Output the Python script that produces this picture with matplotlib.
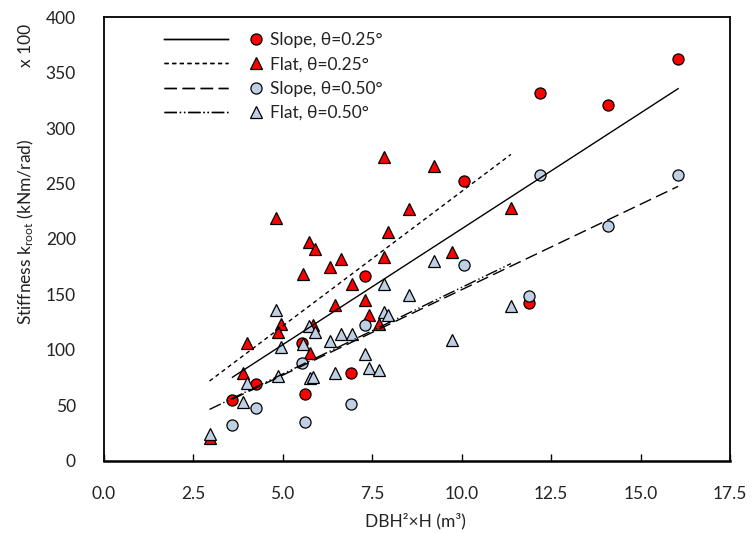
import matplotlib.pyplot as plt
import matplotlib as mpl
import numpy as np

mpl.rcParams['font.family'] = ['Lato', 'DejaVu Sans']
mpl.rcParams['mathtext.fontset'] = 'custom'
mpl.rcParams['mathtext.rm'] = 'Lato'
mpl.rcParams['mathtext.it'] = 'Lato:italic'

red = '#FF0000'
blue = '#BFD0E5'

# slope sites (same trees, two rotation angles)
x_slope = [16.05, 12.2, 14.08, 10.06, 11.89, 7.31, 5.54, 4.26, 3.60, 5.63, 6.91]
k_slope_025 = [362, 332, 321, 252, 142, 167, 106, 69, 55, 60, 79]
k_slope_050 = [258, 258, 212, 176.5, 148.6, 122.5, 88.4, 47.3, 32.2, 34.6, 51.1]

# flat sites
x_flat = [4.82, 5.74, 5.91, 6.33, 5.57, 4.97, 6.47, 5.77, 5.86, 4.86, 4.00, 3.90, 2.96,
          6.64, 6.95, 9.73, 7.30, 7.41, 7.70, 7.84, 7.94, 9.23, 11.38, 7.83, 8.52]
k_flat_025 = [218.7, 197.6, 190.7, 175, 168, 123.3, 140.5, 96.9, 122, 116.4, 105.9, 78.8, 20.2,
              182, 159.7, 188, 145, 131, 123, 273.7, 206, 266, 227.7, 184, 227]
k_flat_050 = [136, 121.8, 115.8, 108.3, 105, 102.3, 79.4, 74.3, 75.8, 76.4, 69.8, 53.2, 24.1,
              114, 114, 108.6, 96, 83.4, 82.1, 134.4, 131.4, 180, 139.8, 159, 149.5]

labels = ['Slope, θ=0.25°', 'Flat, θ=0.25°', 'Slope, θ=0.50°', 'Flat, θ=0.50°']
styles = ['-', (0, (3, 2.5)), (0, (9, 4)), (0, (9, 2, 1, 2, 1, 2))]

series = [(x_slope, k_slope_025, 'o', red),
          (x_flat, k_flat_025, '^', red),
          (x_slope, k_slope_050, 'o', blue),
          (x_flat, k_flat_050, '^', blue)]

fig = plt.figure(figsize=(7.53, 5.33), dpi=100)
ax = fig.add_axes([0.1375, 0.1356, 0.832, 0.832])

marker_handles = []
line_handles = []
for (x, y, m, c), ls in zip(series, styles):
    x = np.array(x)
    y = np.array(y)
    ms = 8 if m == 'o' else 8.5
    h, = ax.plot(x, y, linestyle='none', marker=m, markersize=ms, markerfacecolor=c,
                 markeredgecolor='black', markeredgewidth=0.9, zorder=3)
    marker_handles.append(h)
    # linear trend line through the origin
    b = np.sum(x * y) / np.sum(x * x)
    xx = np.array([x.min(), x.max()])
    l, = ax.plot(xx, b * xx, color='black', linewidth=1.0, linestyle=ls, zorder=4)
    line_handles.append(l)

ax.set_xlim(0, 17.5)
ax.set_ylim(0, 400)
ax.set_xticks(np.arange(0, 17.6, 2.5))
ax.set_xticklabels([f'{v:.1f}' for v in np.arange(0, 17.6, 2.5)])
ax.set_yticks(np.arange(0, 401, 50))
ax.tick_params(axis='x', direction='in', length=5, width=1, pad=18, labelsize=12.5, labelcolor='#222222')
ax.tick_params(axis='y', length=0, pad=20, labelsize=12.5, labelcolor='#222222')
for s in ax.spines.values():
    s.set_linewidth(1.3)
ax.spines['bottom'].set_linewidth(1.8)

fig.text(415 / 753, 1 - 521 / 533, 'DBH²×H (m³)', ha='center', va='center', fontsize=12.5, color='#222222')
fig.text(26 / 753, 1 - 232 / 533, r'Stiffness k$_\mathregular{root}$ (kNm/rad)', rotation=90,
         ha='center', va='center', fontsize=12.5, color='#222222')
fig.text(26 / 753, 1 - 45 / 533, 'x 100', rotation=90, ha='center', va='center', fontsize=12.5, color='#222222')

leg1 = fig.legend(line_handles, [''] * 4, loc='upper left', bbox_to_anchor=(164 / 753, 1 - 32 / 533),
                  frameon=False, handlelength=3.7, handletextpad=0, labelspacing=0.48,
                  fontsize=12.5, borderpad=0, borderaxespad=0)
leg2 = fig.legend(marker_handles, labels, loc='upper left', bbox_to_anchor=(247 / 753, 1 - 32 / 533),
                  frameon=False, handlelength=1.0, handletextpad=0.35, labelspacing=0.48,
                  fontsize=12.5, borderpad=0, borderaxespad=0, labelcolor='#222222')
fig.add_artist(leg1)

plt.savefig('out.png', dpi=100)
plt.close()
